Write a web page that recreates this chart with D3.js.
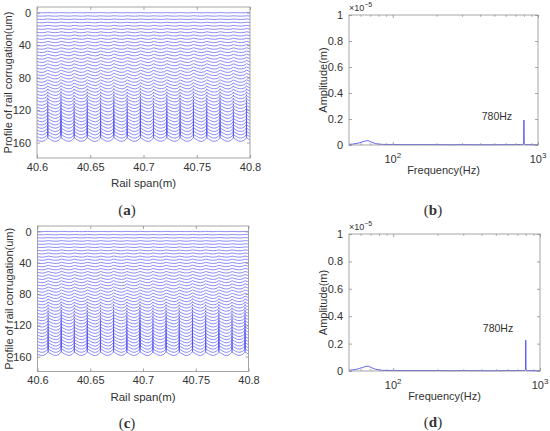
<!DOCTYPE html>
<html>
<head>
<meta charset="utf-8">
<script src="https://cdn.jsdelivr.net/npm/d3@7/dist/d3.min.js"></script>
<style>
  body { margin: 0; background: #fff; }
  svg text { font-family: "Liberation Sans", Arial, sans-serif; fill: #333; }
  .panelLabel { font-family: "Liberation Serif", "Times New Roman", serif; font-size: 15px; }
</style>
</head>
<body>
<div id="chart"></div>
<script>
// Step 1: data
//= ================================

// rail span positions (m) for the corrugation profile
const spanX = [
  40.6000, 40.6025, 40.6050, 40.6075,
  40.6100, 40.6101, 40.6102, 40.6127, 40.6152, 40.6177, 40.6202,
  40.6224, 40.6225, 40.6226, 40.6251, 40.6276, 40.6301, 40.6326,
  40.6348, 40.6349, 40.6350, 40.6375, 40.6400, 40.6425, 40.6450,
  40.6471, 40.6472, 40.6473, 40.6498, 40.6523, 40.6548, 40.6573,
  40.6596, 40.6597, 40.6598, 40.6623, 40.6648, 40.6673, 40.6698,
  40.6720, 40.6721, 40.6722, 40.6747, 40.6772, 40.6797, 40.6822,
  40.6846, 40.6847, 40.6848, 40.6873, 40.6898, 40.6923, 40.6948,
  40.6970, 40.6971, 40.6972, 40.6997, 40.7022, 40.7047, 40.7072,
  40.7093, 40.7094, 40.7095, 40.7120, 40.7145, 40.7170, 40.7195,
  40.7218, 40.7219, 40.7220, 40.7245, 40.7270, 40.7295, 40.7320,
  40.7343, 40.7344, 40.7345, 40.7370, 40.7395, 40.7420, 40.7445,
  40.7468, 40.7469, 40.7470, 40.7495, 40.7520, 40.7545, 40.7570,
  40.7593, 40.7594, 40.7595, 40.7620, 40.7645, 40.7670, 40.7695,
  40.7718, 40.7719, 40.7720, 40.7745, 40.7770, 40.7795, 40.7820,
  40.7843, 40.7844, 40.7845, 40.7870, 40.7895, 40.7920, 40.7945,
  40.7966, 40.7967, 40.7968, 40.7993, 40.8000
];

// smooth corrugation wave of the deepest profile (um)
const waveProfile = [
  0.6, 2.2, 2.6, 1.2,
  -1.8, -2.0, -1.8, 0.3, 2.1, 2.6, 1.3,
  -2.0, -2.2, -2.0, 0.1, 1.9, 2.5, 1.4,
  -1.7, -1.9, -1.7, 0.4, 2.2, 2.4, 1.1,
  -1.9, -2.1, -1.9, 0.2, 2.0, 2.7, 1.5,
  -1.8, -2.0, -1.8, 0.3, 2.1, 2.5, 1.2,
  -2.1, -2.3, -2.1, 0.0, 1.8, 2.6, 1.5,
  -1.7, -1.9, -1.7, 0.4, 2.2, 2.5, 1.1,
  -2.0, -2.2, -2.0, 0.1, 2.0, 2.7, 1.4,
  -1.8, -2.0, -1.8, 0.3, 2.1, 2.4, 1.2,
  -1.9, -2.1, -1.9, 0.2, 1.9, 2.6, 1.5,
  -1.7, -1.9, -1.7, 0.4, 2.2, 2.5, 1.1,
  -2.1, -2.3, -2.1, 0.0, 1.9, 2.7, 1.4,
  -1.8, -2.0, -1.8, 0.3, 2.1, 2.5, 1.3,
  -2.0, -2.2, -2.0, 0.1, 2.0, 2.6, 1.4,
  -1.7, -1.9, -1.7, 0.4, 2.2, 2.4, 1.2,
  -1.9, -2.1, -1.9, 0.3, 1.2
];

// narrow spikes at the corrugation crests (um)
const spikeProfile = [
  0, 0, 0, 0,
  0, -7, 0, 0, 0, 0, 0,
  0, -9, 0, 0, 0, 0, 0,
  0, -6, 0, 0, 0, 0, 0,
  0, -8, 0, 0, 0, 0, 0,
  0, -7, 0, 0, 0, 0, 0,
  0, -9, 0, 0, 0, 0, 0,
  0, -7, 0, 0, 0, 0, 0,
  0, -10, 0, 0, 0, 0, 0,
  0, -6, 0, 0, 0, 0, 0,
  0, -8, 0, 0, 0, 0, 0,
  0, -7, 0, 0, 0, 0, 0,
  0, -9, 0, 0, 0, 0, 0,
  0, -7, 0, 0, 0, 0, 0,
  0, -8, 0, 0, 0, 0, 0,
  0, -6, 0, 0, 0, 0, 0,
  0, -8, 0, 0, 0
];

// vertical offset of each profile line (um)
const lineOffsets = [
  0, 4, 8, 12, 16, 20, 24, 28, 32, 36,
  40, 44, 48, 52, 56, 60, 64, 68, 72, 76,
  80, 84, 88, 92, 96, 100, 104, 108, 112, 116,
  120, 124, 128, 132, 136, 140, 144, 148, 152, 156
];

// growth of the wave / spikes line by line, panel (a)
const waveGainA = [
  0.08, 0.10, 0.13, 0.16, 0.19, 0.22, 0.25, 0.28, 0.31, 0.34,
  0.37, 0.40, 0.43, 0.46, 0.49, 0.52, 0.55, 0.58, 0.61, 0.63,
  0.65, 0.67, 0.69, 0.71, 0.73, 0.75, 0.77, 0.79, 0.81, 0.83,
  0.85, 0.87, 0.89, 0.91, 0.93, 0.95, 0.96, 0.97, 0.99, 1.00
];
const spikeGainA = [
  0, 0, 0, 0, 0, 0, 0, 0, 0, 0,
  0, 0, 0, 0, 0, 0, 0, 0, 0, 0,
  0, 0, 0.03, 0.06, 0.10, 0.14, 0.19, 0.24, 0.30, 0.36,
  0.42, 0.49, 0.56, 0.63, 0.70, 0.77, 0.84, 0.91, 0.96, 1.00
];

// panel (c)
const waveGainC = [
  0.08, 0.10, 0.12, 0.15, 0.18, 0.21, 0.24, 0.27, 0.30, 0.33,
  0.36, 0.39, 0.42, 0.45, 0.48, 0.51, 0.54, 0.57, 0.60, 0.62,
  0.64, 0.66, 0.68, 0.70, 0.72, 0.74, 0.76, 0.78, 0.80, 0.82,
  0.84, 0.86, 0.88, 0.90, 0.92, 0.94, 0.96, 0.97, 0.99, 1.00
];
const spikeGainC = [
  0, 0, 0, 0, 0, 0, 0, 0, 0, 0,
  0, 0, 0, 0, 0, 0, 0, 0, 0, 0,
  0, 0.03, 0.06, 0.10, 0.14, 0.19, 0.24, 0.30, 0.36, 0.42,
  0.48, 0.55, 0.62, 0.69, 0.76, 0.83, 0.89, 0.94, 0.98, 1.00
];

const spanTicks = [40.6, 40.65, 40.7, 40.75, 40.8];
const profileTicks = [0, 40, 80, 120, 160];

// amplitude spectra (x1e-5 m)
const specFreq = [
  50, 53, 56, 59, 62, 64, 66, 68, 70, 73, 76, 80, 85, 90, 100, 120, 150, 200,
  250, 300, 400, 500, 600, 700, 760, 790, 797, 800, 803, 810, 830, 870, 920, 960, 1000
];
const ampB = [
  0.005, 0.007, 0.011, 0.017, 0.024, 0.029, 0.033, 0.032, 0.027, 0.018, 0.011, 0.007,
  0.005, 0.004, 0.004, 0.003, 0.003, 0.003, 0.002, 0.003, 0.002, 0.002, 0.003, 0.003,
  0.004, 0.005, 0.012, 0.192, 0.014, 0.005, 0.003, 0.003, 0.002, 0.002, 0.002
];
const ampD = [
  0.005, 0.008, 0.012, 0.019, 0.026, 0.031, 0.035, 0.034, 0.028, 0.019, 0.012, 0.008,
  0.005, 0.004, 0.004, 0.003, 0.003, 0.003, 0.002, 0.003, 0.002, 0.002, 0.003, 0.003,
  0.004, 0.005, 0.010, 0.225, 0.012, 0.005, 0.003, 0.003, 0.002, 0.002, 0.002
];

const ampTicks = [0, 0.2, 0.4, 0.6, 0.8, 1];
const freqMajor = [100, 1000];
const freqMinor = [60, 70, 80, 90, 200, 300, 400, 500, 600, 700, 800, 900];

// Step 2: svg wrapper
//= ================================
const svg = d3.select("#chart")
  .append("svg")
  .attr("width", 550)
  .attr("height", 431);

svg.append("rect").attr("width", 550).attr("height", 431).attr("fill", "#fff");

const frameColor = "#8f8f8f";
const lineColor = "#4f4ff3";
const plain = d => String(d);

function frame(g, w, h) {
  g.append("rect")
    .attr("width", w)
    .attr("height", h)
    .attr("fill", "none")
    .attr("stroke", frameColor)
    .attr("stroke-width", 0.8);
}

function styleAxis(sel) {
  sel.select(".domain").remove();
  sel.selectAll(".tick line").attr("stroke", frameColor).attr("stroke-width", 0.8);
  sel.selectAll(".tick text").attr("font-size", 11).attr("fill", "#333");
}

// Step 3: waterfall of corrugation profiles, panels (a) and (c)
//= ================================
function drawProfile(box, waveGain, spikeGain, yLabelX) {
  const w = box.right - box.left;
  const h = box.bottom - box.top;
  const g = svg.append("g").attr("transform", `translate(${box.left}, ${box.top})`);

  const xScale = d3.scaleLinear().domain([40.6, 40.8]).range([0, w]);
  const yScale = d3.scaleLinear().domain([-7, 179]).range([0, h]);

  const line = d3.line()
    .x(d => xScale(d[0]))
    .y(d => yScale(d[1]));

  lineOffsets.forEach(function (off, i) {
    const pts = spanX.map((sx, j) => [sx, off + waveGain[i] * waveProfile[j] + spikeGain[i] * spikeProfile[j]]);
    g.append("path")
      .attr("d", line(pts))
      .attr("fill", "none")
      .attr("stroke", lineColor)
      .attr("stroke-width", 0.65)
      .attr("stroke-linejoin", "bevel");
  });

  g.append("g")
    .attr("transform", `translate(0, ${h})`)
    .call(d3.axisBottom(xScale).tickValues(spanTicks).tickSize(-3).tickPadding(5).tickFormat(plain))
    .call(styleAxis);
  g.append("g")
    .call(d3.axisTop(xScale).tickValues(spanTicks).tickSize(-3).tickFormat(""))
    .call(styleAxis);
  g.append("g")
    .call(d3.axisLeft(yScale).tickValues(profileTicks).tickSize(-3).tickPadding(6).tickFormat(plain))
    .call(styleAxis);
  g.append("g")
    .attr("transform", `translate(${w}, 0)`)
    .call(d3.axisRight(yScale).tickValues(profileTicks).tickSize(-3).tickFormat(""))
    .call(styleAxis);
  frame(g, w, h);

  g.append("text")
    .attr("x", w / 2)
    .attr("y", h + 29)
    .attr("text-anchor", "middle")
    .attr("font-size", 11.5)
    .text("Rail span(m)");

  g.append("text")
    .attr("transform", `translate(${yLabelX - box.left}, ${h / 2}) rotate(-90)`)
    .attr("text-anchor", "middle")
    .attr("font-size", 11)
    .text("Profile of rail corrugation(um)");
}

// Step 4: amplitude spectra, panels (b) and (d)
//= ================================
function drawSpectrum(box, amp, note) {
  const w = box.right - box.left;
  const h = box.bottom - box.top;
  const g = svg.append("g").attr("transform", `translate(${box.left}, ${box.top})`);

  const xScale = d3.scaleLog().domain([50, 1000]).range([0, w]);
  const yScale = d3.scaleLinear().domain([0, 1]).range([h, 0]);

  g.append("path")
    .datum(specFreq.map((f, i) => [f, amp[i]]))
    .attr("d", d3.line().x(d => xScale(d[0])).y(d => yScale(d[1])))
    .attr("fill", "none")
    .attr("stroke", lineColor)
    .attr("stroke-width", 0.9);

  // major and minor log ticks, bottom and top
  [[h, -3, freqMajor], [h, -1.8, freqMinor]].forEach(function (t) {
    g.append("g")
      .attr("transform", `translate(0, ${t[0]})`)
      .call(d3.axisBottom(xScale).tickValues(t[2]).tickSize(t[1]).tickFormat(""))
      .call(styleAxis);
    g.append("g")
      .call(d3.axisTop(xScale).tickValues(t[2]).tickSize(t[1]).tickFormat(""))
      .call(styleAxis);
  });

  freqMajor.forEach(function (f) {
    const t = g.append("text")
      .attr("x", xScale(f))
      .attr("y", h + 18)
      .attr("text-anchor", "middle")
      .attr("font-size", 11);
    t.append("tspan").text("10");
    t.append("tspan").attr("dy", -5).attr("font-size", 8).text(String(Math.log10(f)));
  });

  g.append("g")
    .call(d3.axisLeft(yScale).tickValues(ampTicks).tickSize(-3).tickPadding(6).tickFormat(plain))
    .call(styleAxis);
  g.append("g")
    .attr("transform", `translate(${w}, 0)`)
    .call(d3.axisRight(yScale).tickValues(ampTicks).tickSize(-3).tickFormat(""))
    .call(styleAxis);
  frame(g, w, h);

  // exponent marker
  const ex = g.append("text").attr("x", 0).attr("y", -4).attr("font-size", 9);
  ex.append("tspan").text("\u00d710");
  ex.append("tspan").attr("dy", -4).attr("font-size", 7).text("\u22125");

  g.append("text")
    .attr("x", xScale(note.f))
    .attr("y", yScale(note.a))
    .attr("dy", "0.35em")
    .attr("font-size", 10.5)
    .text("780Hz");

  g.append("text")
    .attr("x", w / 2)
    .attr("y", h + 29)
    .attr("text-anchor", "middle")
    .attr("font-size", 11)
    .text("Frequency(Hz)");

  g.append("text")
    .attr("transform", `translate(-22, ${h / 2}) rotate(-90)`)
    .attr("text-anchor", "middle")
    .attr("font-size", 11)
    .text("Amplitude(m)");
}

drawProfile({ left: 37, top: 7, right: 250, bottom: 158 }, waveGainA, spikeGainA, 12);
drawProfile({ left: 37.5, top: 226, right: 248.5, bottom: 371.5 }, waveGainC, spikeGainC, 13);
drawSpectrum({ left: 349, top: 15, right: 538, bottom: 145 }, ampB, { f: 410, a: 0.22 });
drawSpectrum({ left: 349, top: 234, right: 540, bottom: 371 }, ampD, { f: 408, a: 0.31 });

// panel letters
[["a", 127, 215], ["b", 433, 215], ["c", 127, 428], ["d", 433, 427]].forEach(function (p) {
  const t = svg.append("text")
    .attr("class", "panelLabel")
    .attr("x", p[1])
    .attr("y", p[2])
    .attr("text-anchor", "middle");
  t.append("tspan").text("(");
  t.append("tspan").attr("font-weight", "bold").text(p[0]);
  t.append("tspan").text(")");
});
</script>
</body>
</html>
